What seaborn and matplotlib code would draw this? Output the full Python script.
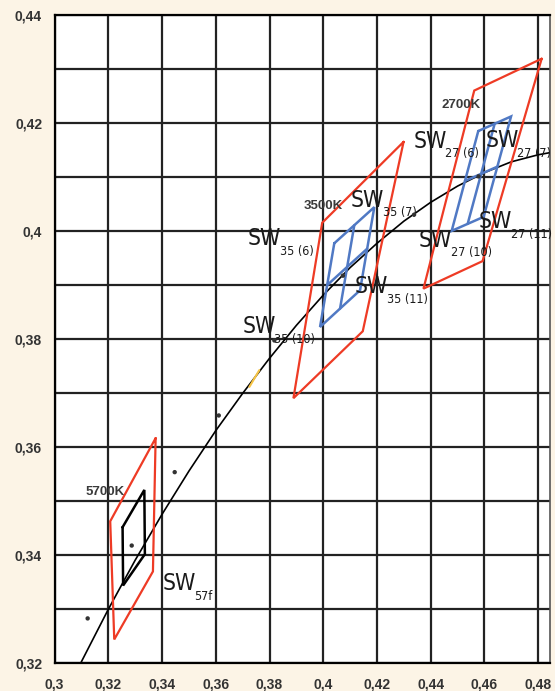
import numpy as np
import matplotlib
matplotlib.use("Agg")
import matplotlib.pyplot as plt
import seaborn as sns

# Planckian locus (CIE 1931 x, y), read every 0.01 in x
locus_x = [0.30, 0.31, 0.32, 0.33, 0.34, 0.35, 0.36, 0.37, 0.38, 0.39,
           0.40, 0.41, 0.42, 0.43, 0.44, 0.45, 0.46, 0.47, 0.48, 0.49]
locus_y = [0.3099, 0.3202, 0.3299, 0.3390, 0.3475, 0.3555, 0.3630, 0.3699, 0.3764, 0.3825,
           0.3881, 0.3932, 0.3977, 0.4018, 0.4053, 0.4083, 0.4108, 0.4128, 0.4141, 0.4150]

# ANSI nominal CCT points
nominal_x = [0.3123, 0.3287, 0.3447, 0.3611, 0.3818, 0.4073, 0.4338, 0.4578]
nominal_y = [0.3282, 0.3417, 0.3553, 0.3658, 0.3797, 0.3917, 0.4030, 0.4101]

# ANSI quadrangles (red)
q2700_x = [0.4813, 0.4562, 0.4373, 0.4593]
q2700_y = [0.4319, 0.4260, 0.3893, 0.3944]
q3500_x = [0.4299, 0.3996, 0.3889, 0.4147]
q3500_y = [0.4165, 0.4015, 0.3690, 0.3814]
q5700_x = [0.3376, 0.3207, 0.3222, 0.3366]
q5700_y = [0.3616, 0.3462, 0.3243, 0.3369]

# SW bins (blue), outer corners UL, TR, BR, BL
sw35_x = [0.4041, 0.4190, 0.4137, 0.3988]
sw35_y = [0.3977, 0.4044, 0.3890, 0.3822]
sw35_mid_x = [0.41155, 0.40625, 0.40145, 0.41635]   # top, bottom, left, right
sw35_mid_y = [0.40105, 0.38560, 0.38995, 0.39670]
sw27_x = [0.4577, 0.4699, 0.4597, 0.4478]
sw27_y = [0.4185, 0.4212, 0.4026, 0.4000]
sw27_mid_x = [0.46380, 0.45375, 0.45275, 0.46480]
sw27_mid_y = [0.41985, 0.40130, 0.40925, 0.41190]

# SW57f bin (black)
sw57_x = [0.3253, 0.3334, 0.3336, 0.3255]
sw57_y = [0.3451, 0.3520, 0.3401, 0.3343]

# small yellow mark
mark_x = [0.3725, 0.3762]
mark_y = [0.3711, 0.3742]

# labels
sw_labels = ["35 (6)", "35 (7)", "35 (11)", "35 (10)", "27 (6)", "27 (7)", "27 (10)", "27 (11)", "57f"]
sw_label_x = [0.3730, 0.4112, 0.4127, 0.3709, 0.4345, 0.4613, 0.4366, 0.4590, 0.3411]
sw_label_y = [0.3974, 0.4045, 0.3885, 0.3810, 0.4154, 0.4155, 0.3971, 0.4005, 0.3335]
cct_labels = ["3500K", "2700K", "5700K"]
cct_label_x = [0.3926, 0.4441, 0.3117]
cct_label_y = [0.4040, 0.4227, 0.3511]

xticks = [0.30, 0.32, 0.34, 0.36, 0.38, 0.40, 0.42, 0.44, 0.46, 0.48]
xtick_labels = ["0,3", "0,32", "0,34", "0,36", "0,38", "0,4", "0,42", "0,44", "0,46", "0,48"]
yticks = [0.32, 0.34, 0.36, 0.38, 0.40, 0.42, 0.44]
ytick_labels = ["0,32", "0,34", "0,36", "0,38", "0,4", "0,42", "0,44"]

RED = "#EE3B25"
BLUE = "#5079C4"
GRID = "#222222"

sns.set_theme(style="white")
plt.rcParams["font.family"] = ["Liberation Sans", "DejaVu Sans"]

fig = plt.figure(figsize=(5.55, 6.91), dpi=100)
fig.patch.set_facecolor("#FCF4E6")
ax = fig.add_axes([0.0984, 0.041, 0.8926, 0.9373])
ax.set_facecolor("white")

# grid
ax.set_xticks(xticks)
ax.set_yticks(yticks)
ax.set_yticks(np.arange(0.33, 0.44, 0.02), minor=True)
ax.grid(True, which="major", color=GRID, lw=1.6)
ax.grid(True, which="minor", axis="y", color=GRID, lw=1.6)
ax.set_axisbelow(True)

# locus and nominal points
sns.lineplot(x=locus_x, y=locus_y, sort=False, estimator=None, color="black", lw=1.2, ax=ax)
sns.scatterplot(x=nominal_x, y=nominal_y, color="#333333", s=10, edgecolor="none", ax=ax, zorder=5)
ax.plot(mark_x, mark_y, color="#F6C445", lw=1.5)


def quad(xs, ys, color, lw):
    ax.plot(xs + xs[:1], ys + ys[:1], color=color, lw=lw, solid_joinstyle="miter")


quad(q2700_x, q2700_y, RED, 1.6)
quad(q3500_x, q3500_y, RED, 1.6)
quad(q5700_x, q5700_y, RED, 1.6)
for bx, by, mx, my in [(sw35_x, sw35_y, sw35_mid_x, sw35_mid_y), (sw27_x, sw27_y, sw27_mid_x, sw27_mid_y)]:
    quad(bx, by, BLUE, 1.8)
    ax.plot(mx[:2], my[:2], color=BLUE, lw=1.8)
    ax.plot(mx[2:], my[2:], color=BLUE, lw=1.8)
quad(sw57_x, sw57_y, "black", 1.8)

# SW labels with subscripts
for lab, lx, ly in zip(sw_labels, sw_label_x, sw_label_y):
    ax.annotate("SW", (lx, ly), xytext=(-2, 0), textcoords="offset points",
                fontsize=16.5, family="DejaVu Sans", fontstretch="condensed",
                color="#1a1a1a", ha="left", va="baseline")
    ax.annotate(lab, (lx, ly), xytext=(21, -7), textcoords="offset points",
                fontsize=9, family="DejaVu Sans", fontstretch="condensed",
                color="#1a1a1a", ha="left", va="baseline")

for lab, lx, ly in zip(cct_labels, cct_label_x, cct_label_y):
    ax.text(lx, ly, lab, fontsize=9.5, fontweight="bold", color="#3a3a3a", ha="left", va="baseline")

ax.set_xlim(0.3, 0.4844)
ax.set_ylim(0.32, 0.44)
ax.set_xticklabels(xtick_labels)
ax.set_yticklabels(ytick_labels)
ax.tick_params(which="major", direction="out", length=4, width=1.2, color="black",
               labelsize=10, labelcolor="#333333", pad=5)
ax.tick_params(axis="x", pad=7)
ax.tick_params(which="minor", length=0)
for lab in ax.get_xticklabels() + ax.get_yticklabels():
    lab.set_fontweight("bold")

for side in ["left", "bottom", "top"]:
    ax.spines[side].set_color("black")
    ax.spines[side].set_linewidth(1.6)
ax.spines["right"].set_color("#555555")
ax.spines["right"].set_linewidth(1.2)

fig.savefig("out.png", dpi=100, facecolor=fig.get_facecolor())
